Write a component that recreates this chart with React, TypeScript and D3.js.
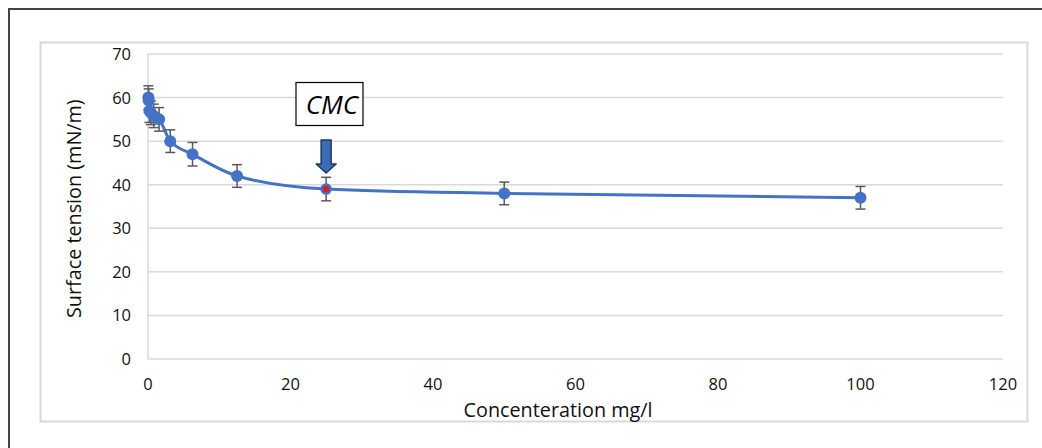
import * as d3 from 'd3';
import React from 'react';

// concentration (mg/l) and surface tension (mN/m)
const concentrations = [0.05, 0.1, 0.2, 0.4, 0.8, 1.56, 3.125, 6.25, 12.5, 25, 50, 100];
const tensions = [60, 59.3, 57, 56.5, 55.8, 55, 50, 47, 42, 39, 38, 37];
const errors = [2.7, 2.7, 2.7, 2.7, 2.7, 2.7, 2.6, 2.7, 2.6, 2.7, 2.6, 2.6];
const cmcIndex = 9;

const xTicks = [0, 20, 40, 60, 80, 100, 120];
const yTicks = [0, 10, 20, 30, 40, 50, 60, 70];

const font = "'Open Sans', 'Noto Sans', sans-serif";

export default function App() {
    const width = 1042;
    const height = 448;

    const x = d3.scaleLinear().domain([0, 120]).range([148, 1003]);
    const y = d3.scaleLinear().domain([0, 70]).range([359, 54]);

    const points = concentrations.map((c, i) => ({ c, t: tensions[i], e: errors[i] }));

    const line = d3.line<{ c: number; t: number }>()
        .x(d => x(d.c))
        .y(d => y(d.t))
        .curve(d3.curveMonotoneX);

    const cmc = points[cmcIndex];
    const ax = x(cmc.c);
    // arrow geometry above the CMC point
    const arrowTop = 140;
    const arrowTip = 173;
    const headStart = 164;

    return (
        <svg width={width} height={height}
             style={{ position: 'absolute', top: 0, left: 0, background: '#fff' }}>
            {/* outer frame */}
            <rect x={9} y={9} width={1100} height={500} fill="none" stroke="#444" strokeWidth={2} />
            {/* chart area */}
            <rect x={40.5} y={42.5} width={987} height={379} fill="#fff" stroke="#d9d9d9" strokeWidth={2} />

            {/* gridlines */}
            <g stroke="#d9d9d9" strokeWidth={1.5}>
                {yTicks.map(t => (
                    <line key={t} x1={x(0)} x2={x(120)} y1={y(t)} y2={y(t)} />
                ))}
                <line x1={x(0)} x2={x(0)} y1={y(70)} y2={y(0)} />
            </g>

            {/* y tick labels */}
            <g fontFamily={font} fontSize={16.5} fill="#111" textAnchor="end">
                {yTicks.map(t => (
                    <text key={t} x={131} y={y(t) + 6}>{t}</text>
                ))}
            </g>
            {/* x tick labels */}
            <g fontFamily={font} fontSize={16.5} fill="#111" textAnchor="middle">
                {xTicks.map(t => (
                    <text key={t} x={x(t)} y={390}>{t}</text>
                ))}
            </g>

            {/* axis titles */}
            <text x={558} y={417} fontFamily={font} fontSize={19.8} fill="#111" textAnchor="middle">
                Concenteration mg/l
            </text>
            <text transform={`translate(81,${y(34.5)}) rotate(-90)`} fontFamily={font} fontSize={19.8}
                  fill="#111" textAnchor="middle">
                Surface tension (mN/m)
            </text>

            {/* series line */}
            <path d={line(points) || ''} fill="none" stroke="#4472C4" strokeWidth={3} />

            {/* error bars */}
            <g stroke="#595959" strokeWidth={1.5}>
                {points.map((p, i) => (
                    <g key={i}>
                        <line x1={x(p.c)} x2={x(p.c)} y1={y(p.t + p.e)} y2={y(p.t - p.e)} />
                        <line x1={x(p.c) - 5} x2={x(p.c) + 5} y1={y(p.t + p.e)} y2={y(p.t + p.e)} />
                        <line x1={x(p.c) - 5} x2={x(p.c) + 5} y1={y(p.t - p.e)} y2={y(p.t - p.e)} />
                    </g>
                ))}
            </g>

            {/* markers */}
            {points.map((p, i) => (
                <circle key={i} cx={x(p.c)} cy={y(p.t)} r={i === cmcIndex ? 4.5 : 6}
                        fill={i === cmcIndex ? '#d0202a' : '#4472C4'}
                        stroke="#4472C4" strokeWidth={i === cmcIndex ? 2.5 : 0} />
            ))}

            {/* CMC annotation */}
            <rect x={296} y={82.5} width={67} height={43} fill="#fff" stroke="#000" strokeWidth={1.2} />
            <text x={332} y={114} fontFamily={font} fontSize={26} fontStyle="italic" fill="#000"
                  textAnchor="middle">CMC</text>
            <path
                d={`M${ax - 5},${arrowTop} L${ax + 5},${arrowTop} L${ax + 5},${headStart} L${ax + 10},${headStart}
                    L${ax},${arrowTip} L${ax - 10},${headStart} L${ax - 5},${headStart} Z`}
                fill="#3a6db5" stroke="#1f3864" strokeWidth={1.5} strokeLinejoin="round" />
        </svg>
    );
}
